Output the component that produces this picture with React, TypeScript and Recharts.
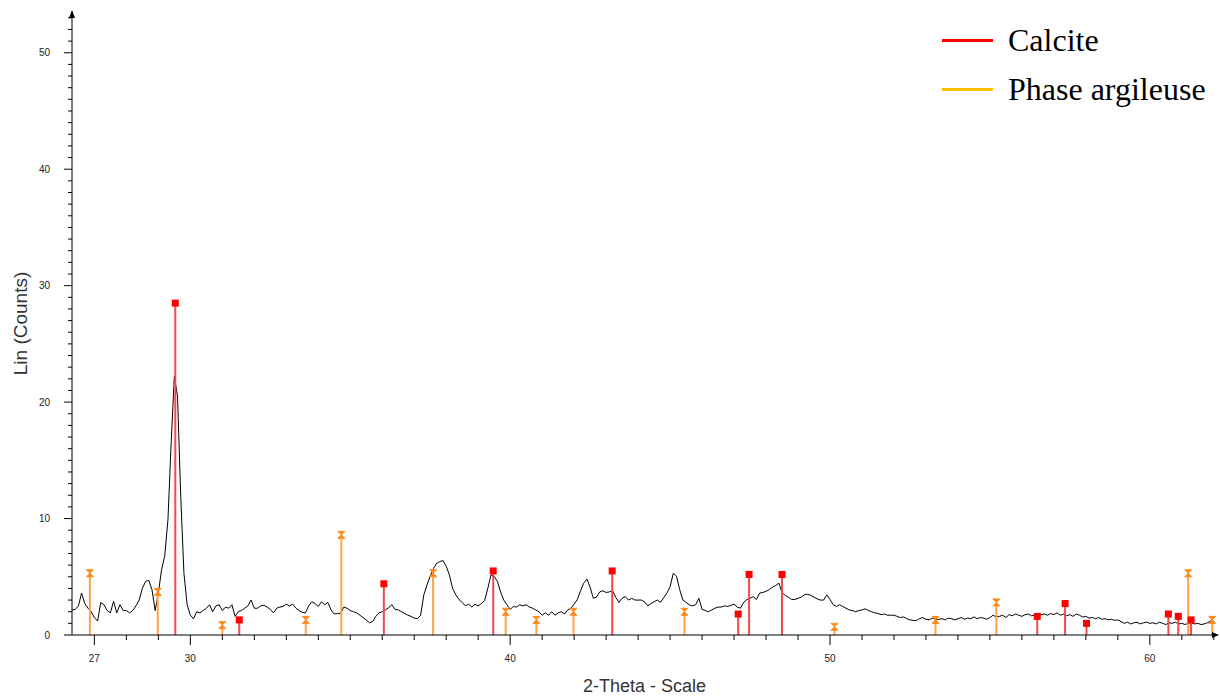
import React from 'react';
import { ComposedChart, Line, Scatter, XAxis, YAxis, ReferenceLine, ReferenceDot, Legend, Label } from 'recharts';

// measured pattern, one reading every 0.1 deg from 26.3
const THETA_START = 26.3;
const THETA_STEP = 0.1;
const counts = [
  2.15, 2.2, 2.5, 3.6, 2.7, 2.3, 2.0,
  1.5, 1.2, 2.8, 2.6, 2.1, 1.9, 2.9, 1.9, 2.6, 2.1,
  2.1, 1.9, 2.1, 2.5, 3.0, 4.0, 4.6, 4.7, 3.9, 2.1,
  3.6, 5.6, 6.8, 9.9, 16.5, 22.2, 20.5, 11.9, 5.3, 2.6,
  1.7, 1.4, 2.0, 1.9, 2.1, 2.3, 2.6, 2.0, 2.5, 2.6,
  2.1, 2.4, 2.3, 2.6, 1.6, 2.0, 2.1, 2.3, 2.5, 3.0,
  2.3, 2.3, 2.5, 2.55, 2.4, 2.2, 1.9, 2.3, 2.4, 2.45,
  2.65, 2.5, 2.65, 2.3, 2.1, 1.95, 1.9, 2.5, 2.85, 2.7,
  2.45, 2.85, 2.6, 2.8, 2.15, 1.8, 1.85, 1.85, 2.4, 2.3,
  2.1, 2.0, 1.9, 1.7, 1.5, 1.3, 1.05, 1.15, 1.6, 1.9,
  2.0, 2.15, 2.35, 2.6, 2.2, 2.15, 2.0, 1.85, 1.7, 1.6,
  1.45, 1.4, 1.7, 3.45, 4.3, 5.05, 5.7, 6.15, 6.3, 6.4,
  5.9, 5.15, 4.0, 3.45, 3.05, 2.8, 2.5, 2.65, 2.4, 2.65,
  2.5, 2.7, 2.95, 4.0, 5.15, 5.05, 4.6, 3.7, 3.0, 2.6,
  2.2, 2.45, 2.4, 2.6, 2.5, 2.6, 2.4, 2.3, 2.15, 2.0,
  1.7, 1.9, 1.7, 2.0, 1.7, 1.9, 2.0, 1.8, 2.15, 2.3,
  2.65, 3.05, 3.8, 4.45, 4.8, 4.1, 3.15, 3.25, 3.7, 3.8,
  3.65, 3.7, 3.8, 3.25, 2.8, 3.15, 3.3, 3.0, 3.15, 3.0,
  3.0, 3.0, 2.85, 2.5, 2.7, 2.85, 3.0, 2.8, 3.2, 3.6,
  4.15, 5.3, 5.05, 3.9, 3.0, 2.8, 2.6, 2.5, 2.6, 3.15,
  2.2, 2.1, 2.0, 2.15, 2.3, 2.4, 2.4, 2.5, 2.45, 2.55,
  2.65, 2.4, 2.3, 2.8, 3.05, 3.15, 3.3, 3.05, 3.6, 3.65,
  3.75, 3.9, 4.1, 4.25, 4.45, 3.65, 3.4, 3.25, 3.05, 3.05,
  3.15, 3.25, 3.45, 3.5, 3.4, 3.25, 3.1, 3.0, 3.0, 3.45,
  3.05, 2.6, 2.45, 2.6, 2.45, 2.3, 2.15, 2.1, 2.0, 2.1,
  2.15, 2.25, 2.1, 2.0, 1.9, 1.85, 1.75, 1.8, 1.7, 1.7,
  1.7, 1.6, 1.5, 1.55, 1.4, 1.3, 1.25, 1.25, 1.4, 1.5,
  1.35, 1.3, 1.45, 1.35, 1.35, 1.4, 1.3, 1.45, 1.4, 1.3,
  1.4, 1.5, 1.35, 1.45, 1.4, 1.55, 1.4, 1.5, 1.45, 1.35,
  1.5, 1.7, 1.55, 1.6, 1.7, 1.5, 1.75, 1.65, 1.8, 1.7,
  1.6, 1.75, 1.8, 1.65, 1.7, 1.6, 1.75, 1.8, 1.7, 1.85,
  1.75, 1.9, 1.7, 1.8, 1.65, 1.75, 1.6, 1.8, 1.7, 1.55,
  1.6, 1.45, 1.5, 1.4, 1.5, 1.35, 1.4, 1.3, 1.35, 1.25,
  1.3, 1.15, 1.0, 1.1, 0.95, 1.05, 1.1, 0.95, 1.05, 1.1,
  1.0, 1.05, 0.95, 1.1, 1.0, 0.9, 1.05, 1.0, 1.1, 0.95,
  1.0, 0.9, 1.0, 1.05, 0.95, 1.0, 0.9, 0.95, 1.05, 1.2,
  1.1,
];

// reference peak positions (2-theta) and stick heights
const calciteTheta = [29.53, 31.53, 36.05, 39.47, 43.19, 47.13, 47.47, 48.5, 56.48, 57.35, 58.02, 60.58, 60.89, 61.29];
const calciteHeight = [28.5, 1.3, 4.4, 5.5, 5.5, 1.8, 5.2, 5.2, 1.6, 2.7, 1.0, 1.8, 1.6, 1.3];
const argileTheta = [26.86, 28.98, 31.0, 33.61, 34.72, 37.59, 39.86, 40.82, 41.98, 45.45, 50.14, 53.3, 55.2, 61.2, 61.95];
const argileHeight = [5.3, 3.7, 0.85, 1.3, 8.6, 5.3, 2.0, 1.3, 2.0, 2.0, 0.7, 1.3, 2.8, 5.3, 1.3];

const X_LABELS = [27, 30, 40, 50, 60];
const Y_LABELS = [0, 10, 20, 30, 40, 50];
const X_MIN = 26.3;
const X_MAX = 62.1;
const Y_MAX = 53.5;

const legendItems = [
  { label: 'Calcite', color: '#ff0000' },
  { label: 'Phase argileuse', color: '#ffc000' },
];

const RED = '#ff0000';
const RED_STICK = '#f24a4a';
const ORANGE = '#ff8a1e';
const ORANGE_STICK = '#ffa447';

const table = counts.map((c, i) => ({ theta: +(THETA_START + i * THETA_STEP).toFixed(2), counts: c }));
const calcite = calciteTheta.map((t, i) => ({ theta: t, counts: calciteHeight[i] }));
const argile = argileTheta.map((t, i) => ({ theta: t, counts: argileHeight[i] }));

const xTicks: number[] = [];
for (let v = 27; v <= 62; v++) xTicks.push(v);
const yTicks: number[] = [];
for (let v = 0; v <= 53; v++) yTicks.push(v);

const XTick = (props: any) => {
  const { x, y, payload } = props;
  const major = X_LABELS.includes(payload.value);
  return (
    <g>
      <line x1={x} x2={x} y1={y} y2={y + (major ? 10 : 5)} stroke="#000" />
      {major && (
        <text x={x} y={y + 27} textAnchor="middle" fontSize={10} fill="#222">{payload.value}</text>
      )}
    </g>
  );
};

const YTick = (props: any) => {
  const { x, y, payload } = props;
  const major = Y_LABELS.includes(payload.value);
  return (
    <g>
      <line x1={x - (major ? 8 : 4)} x2={x} y1={y} y2={y} stroke="#000" />
      {major && (
        <text x={x - 22} y={y + 3.5} textAnchor="end" fontSize={10} fill="#222">{payload.value}</text>
      )}
    </g>
  );
};

const SquareMark = (props: any) => {
  const { cx, cy } = props;
  return <rect x={cx - 3.5} y={cy - 3.5} width={7} height={7} fill={RED} />;
};

const HourglassMark = (props: any) => {
  const { cx, cy } = props;
  return (
    <path
      d={`M${cx - 3.5},${cy - 3.5} H${cx + 3.5} L${cx},${cy} L${cx + 3.5},${cy + 3.5} H${cx - 3.5} L${cx},${cy} Z`}
      fill={ORANGE}
      stroke={ORANGE}
      strokeWidth={1}
    />
  );
};

const UpArrow = (props: any) => {
  const { cx, cy } = props;
  return <path d={`M${cx},${cy - 2} L${cx + 3},${cy + 6} L${cx - 3},${cy + 6} Z`} fill="#000" />;
};

const RightArrow = (props: any) => {
  const { cx, cy } = props;
  return <path d={`M${cx + 2},${cy} L${cx - 5},${cy - 3} L${cx - 5},${cy + 3} Z`} fill="#000" />;
};

const LegendBox = () => (
  <div style={{ fontFamily: '"Liberation Serif", "Times New Roman", serif', fontSize: 32, color: '#000' }}>
    {legendItems.map((it) => (
      <div key={it.label} style={{ display: 'flex', alignItems: 'center', height: 49 }}>
        <span style={{ display: 'inline-block', width: 51, height: 3, background: it.color, marginRight: 15 }} />
        <span>{it.label}</span>
      </div>
    ))}
  </div>
);

export default function App() {
  return (
    <div style={{ position: 'absolute', left: 0, top: 0, fontFamily: '"Liberation Sans", Arial, sans-serif' }}>
      <ComposedChart width={1220} height={697} data={table} margin={{ top: 12, right: 3, bottom: 0, left: 12 }}>
        <XAxis
          type="number"
          dataKey="theta"
          domain={[X_MIN, X_MAX]}
          allowDataOverflow
          ticks={xTicks}
          interval={0}
          tick={<XTick />}
          tickLine={false}
          tickSize={0}
          tickMargin={0}
          height={62}
          axisLine={{ stroke: '#000' }}
        >
          <Label value="2-Theta - Scale" position="center" dy={20} fontSize={18} fill="#333" />
        </XAxis>
        <YAxis
          type="number"
          domain={[0, Y_MAX]}
          allowDataOverflow
          ticks={yTicks}
          interval={0}
          tick={<YTick />}
          tickLine={false}
          tickSize={0}
          tickMargin={0}
          width={60}
          axisLine={{ stroke: '#000' }}
        >
          <Label value="Lin (Counts)" angle={-90} position="center" dx={-22} fontSize={19} fill="#333" />
        </YAxis>
        <Legend layout="vertical" align="center" verticalAlign="middle" content={<LegendBox />}
          wrapperStyle={{ top: 16, left: 942, width: 278 }} />
        <Line type="linear" dataKey="counts" stroke="#000" strokeWidth={1} dot={false} isAnimationActive={false} />
        {calcite.map((p) => (
          <ReferenceLine key={'c' + p.theta} segment={[{ x: p.theta, y: 0 }, { x: p.theta, y: p.counts }]}
            stroke={RED_STICK} strokeWidth={2} />
        ))}
        {argile.map((p) => (
          <ReferenceLine key={'a' + p.theta} segment={[{ x: p.theta, y: 0 }, { x: p.theta, y: p.counts }]}
            stroke={ORANGE_STICK} strokeWidth={2} />
        ))}
        <Scatter data={calcite} dataKey="counts" shape={<SquareMark />} isAnimationActive={false} />
        <Scatter data={argile} dataKey="counts" shape={<HourglassMark />} isAnimationActive={false} />
        <ReferenceDot x={X_MIN} y={Y_MAX} ifOverflow="visible" shape={<UpArrow />} />
        <ReferenceDot x={X_MAX} y={0} ifOverflow="visible" shape={<RightArrow />} />
      </ComposedChart>
    </div>
  );
}
